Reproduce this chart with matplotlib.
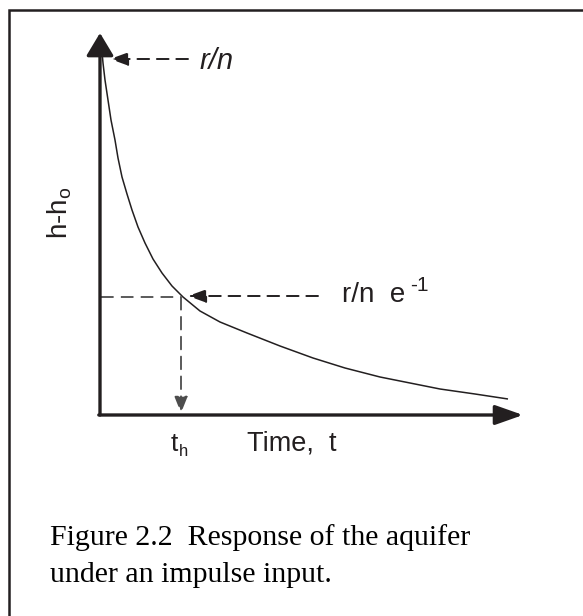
import matplotlib.pyplot as plt
import numpy as np

plt.rcParams['mathtext.fontset'] = 'custom'
plt.rcParams['mathtext.rm'] = 'Liberation Sans'
plt.rcParams['mathtext.it'] = 'Liberation Sans:italic'

# head decline after the impulse (drawing units, y grows downward)
t_pts = [102, 103, 105, 108, 111, 115, 118, 122, 127, 132, 138, 145, 153, 162, 172, 183,
         200, 220, 247, 280, 313, 345, 380, 410, 440, 475, 508]
h_pts = [52, 63, 80, 100, 120, 140, 158, 177, 194, 210, 227, 243, 259, 273, 286, 297,
         311, 322, 333, 346, 358, 368, 377, 383, 389, 394, 399]

t_half = 181      # time where head = r/n e^-1
h_peak = 59
h_half = 297

dark = '#231f20'
grey = '#4d4d4d'

fig = plt.figure(figsize=(5.83, 6.16), dpi=100)
ax = fig.add_axes([0, 0, 1, 1])
ax.set_xlim(0, 583)
ax.set_ylim(616, 0)
ax.axis('off')

# frame (top and left edges only)
ax.plot([9, 9, 583], [616, 9.5, 9.5], color=dark, lw=1.8, solid_joinstyle='miter')

# axes with arrow heads
ax.annotate('', xy=(100, 33), xytext=(100, 415),
            arrowprops=dict(arrowstyle='-|>,head_length=0.7,head_width=0.42',
                            mutation_scale=20, lw=2.4, color=dark, shrinkA=0, shrinkB=0))
ax.annotate('', xy=(523, 415), xytext=(98.8, 415),
            arrowprops=dict(arrowstyle='-|>,head_length=0.85,head_width=0.3',
                            mutation_scale=20, lw=2.4, color=dark, shrinkA=0, shrinkB=0))

# response curve
ax.plot(t_pts, h_pts, color=dark, lw=1.1, solid_capstyle='butt')

# guide lines to the characteristic time
ax.plot([101, t_half], [h_half, h_half], color=grey, lw=1.3, dashes=(7, 4))
ax.annotate('', xy=(t_half, 413), xytext=(t_half, h_half),
            arrowprops=dict(arrowstyle='-|>,head_length=0.5,head_width=0.2',
                            mutation_scale=20, lw=1.3, color=grey, ls=(0, (7, 4)),
                            shrinkA=0, shrinkB=0))

# pointer arrows
ax.annotate('', xy=(110, h_peak), xytext=(188, h_peak),
            arrowprops=dict(arrowstyle='-|>,head_length=0.55,head_width=0.2',
                            mutation_scale=20, lw=1.4, color=dark, ls=(0, (6, 4)),
                            shrinkA=0, shrinkB=0))
ax.annotate('', xy=(188, h_half - 1), xytext=(318, h_half - 1),
            arrowprops=dict(arrowstyle='-|>,head_length=0.55,head_width=0.2',
                            mutation_scale=20, lw=1.4, color=dark, ls=(0, (6, 4)),
                            shrinkA=0, shrinkB=0))

sans = 'Liberation Sans'

# labels
ax.text(200, 69, 'r/n', fontsize=21, style='italic', family=sans,
        color=dark, va='baseline')
ax.text(342, 302, 'r/n  e', fontsize=20, family=sans, color=dark, va='baseline')
ax.text(410, 291, '-1', fontsize=15, family=sans, color=dark, va='baseline')
ax.text(68, 187, r'h-h$_{\mathrm{o}}$', fontsize=20, family=sans,
        color=dark, rotation=90, ha='right', va='baseline', rotation_mode='anchor')
ax.text(171, 451, 't', fontsize=19, family=sans, color=dark, va='baseline')
ax.text(179, 456, 'h', fontsize=12, family=sans, color=dark, va='baseline')
ax.text(247, 451, 'Time,  t', fontsize=19.5, family=sans, color=dark, va='baseline')

# caption
ax.text(50, 545, 'Figure 2.2  Response of the aquifer', fontsize=21.5,
        family='Liberation Serif', color='black', va='baseline')
ax.text(50, 582, 'under an impulse input.', fontsize=21.5,
        family='Liberation Serif', color='black', va='baseline')

fig.savefig('out.png', dpi=100)
